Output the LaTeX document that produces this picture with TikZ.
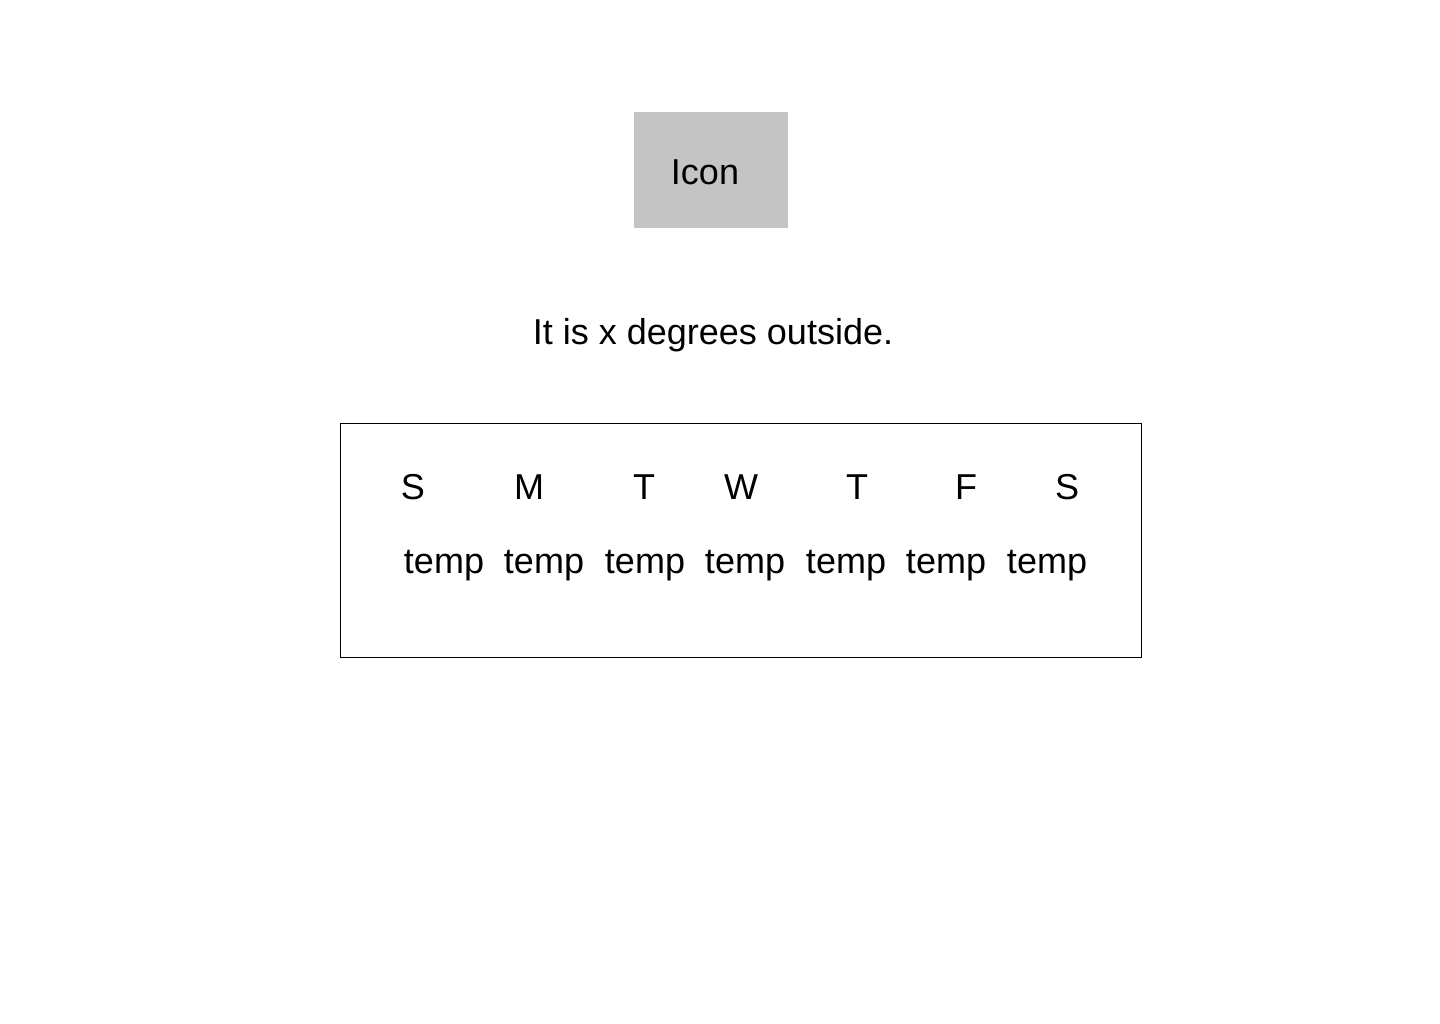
\documentclass[tikz,border=0pt]{standalone}
\usepackage{fontspec}
\setmainfont{Liberation Sans}
\definecolor{icongray}{HTML}{C4C4C4}
\begin{document}
\begin{tikzpicture}[x=1pt,y=-1pt,
  lbl/.style={inner sep=0pt, font=\fontsize{36}{43}\selectfont, anchor=base},
  iconbox/.style={fill=icongray, draw=none},
  frame/.style={draw=black, line width=1pt}]
\useasboundingbox[fill=white] (0,0) rectangle (1440,1024);
\fill[iconbox] (634,112) rectangle (788,228);
\node[lbl] (icon) at (705,185) {Icon};
\node[lbl] (sentence) at (713,344) {It is x degrees outside.};
\draw[frame] (340.5,423.5) rectangle (1141.5,657.5);
\node[lbl] (d1) at (413,499) {S};
\node[lbl] (d2) at (529,499) {M};
\node[lbl] (d3) at (644,499) {T};
\node[lbl] (d4) at (741,499) {W};
\node[lbl] (d5) at (857,499) {T};
\node[lbl] (d6) at (966,499) {F};
\node[lbl] (d7) at (1067,499) {S};
\node[lbl] (t1) at (444,573) {temp};
\node[lbl] (t2) at (544,573) {temp};
\node[lbl] (t3) at (645,573) {temp};
\node[lbl] (t4) at (745,573) {temp};
\node[lbl] (t5) at (846,573) {temp};
\node[lbl] (t6) at (946,573) {temp};
\node[lbl] (t7) at (1047,573) {temp};
\end{tikzpicture}
\end{document}
